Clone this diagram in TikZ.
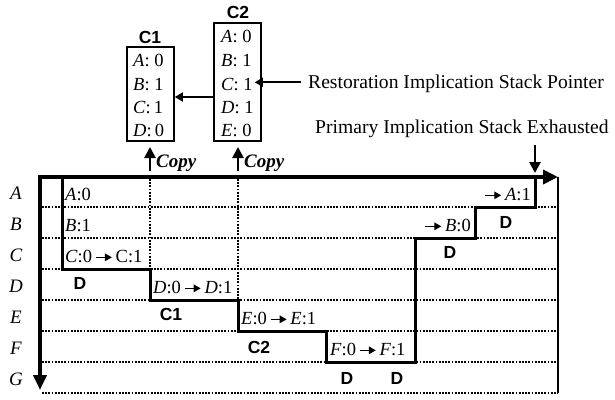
\documentclass[tikz,border=0pt]{standalone}
\usepackage{fontspec}
\setmainfont{Liberation Serif}
\setsansfont{Liberation Sans}
\usetikzlibrary{arrows.meta}
\newcommand{\sarr}{\tikz[baseline=-0.55ex]\draw[line width=1.4pt,-{Triangle[length=7pt,width=7.5pt]}] (0pt,0pt)--(16pt,0pt);}
\begin{document}
\begin{tikzpicture}[x=1pt,y=-1pt,
  rowlab/.style={font=\fontsize{19}{20}\selectfont\itshape, anchor=base, inner sep=0pt},
  cell/.style={font=\fontsize{18.5}{20}\selectfont, anchor=base west, inner sep=0pt},
  entry/.style={font=\fontsize{18.5}{20}\selectfont, anchor=base west, inner sep=0pt},
  dlab/.style={font=\fontsize{17.5}{19}\selectfont\sffamily\bfseries, inner sep=0pt},
  bigtxt/.style={font=\fontsize{19.6}{22}\selectfont, anchor=base west, inner sep=0pt},
  copytxt/.style={font=\fontsize{19}{21}\selectfont\bfseries\itshape, anchor=base west, inner sep=0pt},
  box/.style={draw, line width=1.6pt, inner sep=0pt, minimum width=47pt},
  arr/.style={line width=1.6pt, -{Triangle[length=8pt,width=9pt]}},
  uparr/.style={line width=2.6pt, -{Triangle[length=11pt,width=11pt]}},
  dots/.style={line width=1.8pt, dash pattern=on 1.8pt off 1.4pt},
  axis/.style={line width=4.5pt, line join=miter},
  stair/.style={line width=3pt, line join=miter}
]
\useasboundingbox (0,0) rectangle (615,399);

% grid dotted lines
\foreach \y in {207,238,269,300,331,362,393}
  \draw[dots] (42,\y) -- (558,\y);
\draw[dots] (150,179) -- (150,269);
\draw[dots] (238,179) -- (238,300);
\draw[line width=1.6pt] (558,177) -- (558,393);

% axes
\draw[axis, {Triangle[length=15pt,width=13pt]}-{Triangle[length=15pt,width=14pt]}]
  (40,390) -- (40,177) -- (558,177);

% staircase
\draw[stair] (62,177) -- (62,269) -- (150,269) -- (150,300) -- (238,300) -- (238,331)
  -- (326,331) -- (326,362) -- (415,362) -- (415,238) -- (475,238) -- (475,207)
  -- (535,207) -- (535,177);

% row labels
\node[rowlab] (rA) at (16,199) {A};
\node[rowlab] (rB) at (16,230) {B};
\node[rowlab] (rC) at (16,261) {C};
\node[rowlab] (rD) at (16,292) {D};
\node[rowlab] (rE) at (16,323) {E};
\node[rowlab] (rF) at (16,354) {F};
\node[rowlab] (rG) at (16,385) {G};

% cell labels
\node[cell] (lA0) at (65,200) {\textit{A}:0};
\node[cell] (lB1) at (65,231) {\textit{B}:1};
\node[cell] (lC) at (65,262) {\textit{C}:0\,\sarr\,C:1};
\node[cell] (lD) at (153,293) {\textit{D}:0\,\sarr\,\textit{D}:1};
\node[cell] (lE) at (241,324) {\textit{E}:0\,\sarr\,\textit{E}:1};
\node[cell] (lF) at (330,355) {\textit{F}:0\,\sarr\,\textit{F}:1};
\node[cell, anchor=base east] (lB0) at (471,231) {\sarr\,\textit{B}:0};
\node[cell, anchor=base east] (lA1) at (531,200) {\sarr\,\textit{A}:1};

% bold labels
\node[dlab] (d1) at (80,283) {D};
\node[dlab] (k1) at (171,314) {C1};
\node[dlab] (k2) at (259,347) {C2};
\node[dlab] (d2) at (347,378) {D};
\node[dlab] (d3) at (397,378) {D};
\node[dlab] (d4) at (450,252) {D};
\node[dlab] (d5) at (506,222) {D};

% top boxes
\node[box, minimum height=94pt] (c1) at (150.5,94) {};
\node[box, minimum height=118pt] (c2) at (237.5,82) {};
\node[dlab] (c1t) at (150,37) {C1};
\node[dlab] (c2t) at (238,12) {C2};

\node[entry] (c1a) at (133,66) {\textit{A}: 0};
\node[entry] (c1b) at (133,90) {\textit{B}: 1};
\node[entry] (c1c) at (133,113) {\textit{C}:\,1};
\node[entry] (c1d) at (133,136) {\textit{D}:\,0};

\node[entry] (c2a) at (221,42) {\textit{A}: 0};
\node[entry] (c2b) at (221,66) {\textit{B}: 1};
\node[entry] (c2c) at (221,90) {\textit{C}: 1};
\node[entry] (c2d) at (221,113) {\textit{D}: 1};
\node[entry] (c2e) at (221,136) {\textit{E}: 0};

\draw[arr] ([yshift=-15pt]c2.west) -- ([yshift=-15pt]c2.west -| c1.east);

\node[bigtxt] (rest) at (308,88) {Restoration Implication Stack Pointer};
\draw[arr] ([xshift=-7pt,yshift=1pt]rest.west) -- ([xshift=-7pt,yshift=1pt]rest.west -| c2.east);

\node[bigtxt] (prim) at (315,133) {Primary Implication Stack Exhausted};
\coordinate (exht) at (535,145);
\coordinate (exhb) at (535,173);
\draw[uparr] (exht) -- (exhb);

% copy arrows
\coordinate (cp1b) at (150,171);
\coordinate (cp1t) at (150,147);
\coordinate (cp2b) at (238,171);
\coordinate (cp2t) at (238,147);
\draw[uparr] (cp1b) -- (cp1t);
\draw[uparr] (cp2b) -- (cp2t);
\node[copytxt] (cpy1) at (156,167) {Copy};
\node[copytxt] (cpy2) at (244,167) {Copy};
\end{tikzpicture}
\end{document}
